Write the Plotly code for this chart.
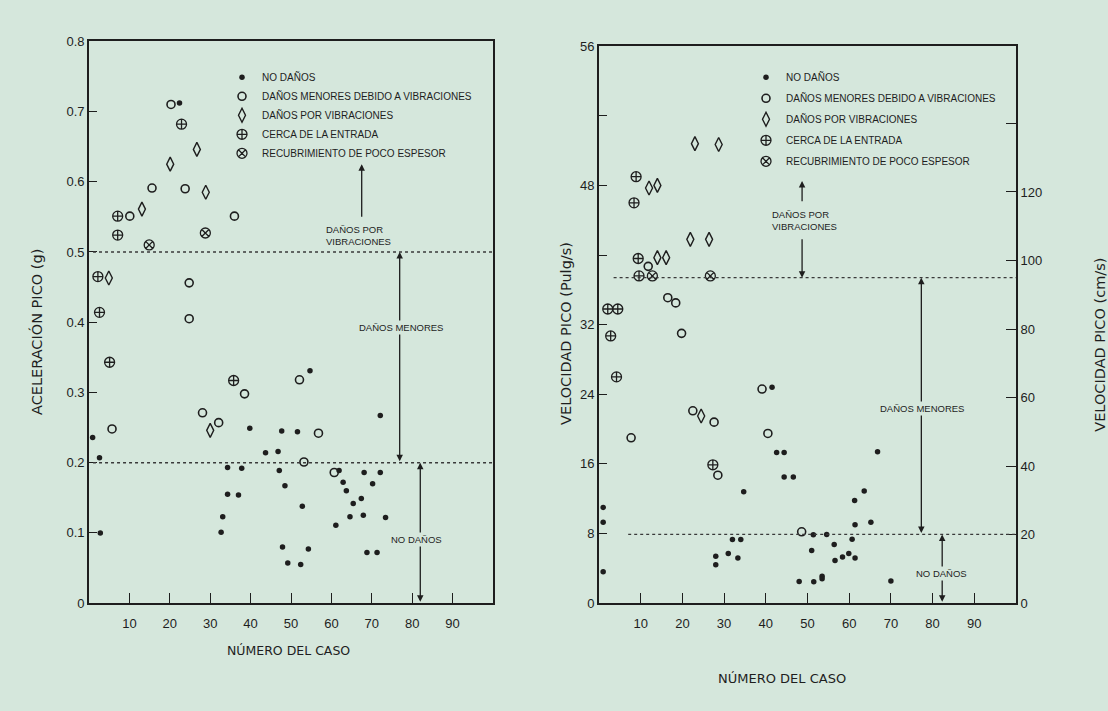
import plotly.graph_objects as go

W, H = 1108, 711
BG = "#d5e7dc"
INK = "#1e1e1e"
FONT = "Liberation Sans"
TFONT = "DejaVu Sans"

# ---------------- DATA ----------------
series_names = ["NO DAÑOS", "DAÑOS MENORES DEBIDO A VIBRACIONES", "DAÑOS POR VIBRACIONES",
                "CERCA DE LA ENTRADA", "RECUBRIMIENTO DE POCO ESPESOR"]

# Left panel: peak acceleration (g) vs case number
acc_none_x = [22.4, 0.9, 2.6, 2.8, 39.8, 47.7, 43.7, 46.8, 47.1, 34.3, 37.8, 34.3, 37.0, 33.1, 32.7,
              47.9, 48.5, 49.2, 52.4, 54.3, 52.8, 54.7, 51.6, 72.1, 61.9, 68.1, 72.1, 62.9, 63.7,
              70.2, 67.4, 65.4, 67.9, 64.6, 73.4, 61.1, 68.8, 71.3]
acc_none_y = [0.712, 0.236, 0.207, 0.100, 0.249, 0.245, 0.214, 0.216, 0.189, 0.193, 0.192, 0.155,
              0.154, 0.123, 0.101, 0.080, 0.167, 0.057, 0.055, 0.077, 0.138, 0.331, 0.244, 0.267,
              0.189, 0.186, 0.186, 0.172, 0.160, 0.170, 0.149, 0.142, 0.125, 0.123, 0.122, 0.111,
              0.072, 0.072]
acc_minor_x = [20.3, 15.6, 23.8, 10.1, 36.0, 24.8, 24.8, 38.5, 28.1, 32.1, 5.7, 52.1, 56.8, 53.2, 60.7]
acc_minor_y = [0.710, 0.591, 0.590, 0.551, 0.551, 0.456, 0.405, 0.298, 0.271, 0.257, 0.248, 0.318,
               0.242, 0.201, 0.186]
acc_vib_x = [26.7, 20.1, 28.9, 13.1, 4.9, 30.0]
acc_vib_y = [0.646, 0.625, 0.585, 0.561, 0.463, 0.246]
acc_portal_x = [22.9, 7.1, 7.1, 2.2, 2.6, 5.1, 35.8]
acc_portal_y = [0.682, 0.551, 0.524, 0.465, 0.414, 0.343, 0.317]
acc_thin_x = [28.8, 14.9]
acc_thin_y = [0.527, 0.510]

# Right panel: peak velocity (in/s) vs case number
vel_none_x = [1.0, 1.0, 1.0, 28.0, 28.0, 31.0, 32.0, 34.0, 33.3, 34.7, 42.6, 44.4, 44.4, 46.6, 41.5,
              48.0, 51.4, 51.0, 51.5, 53.5, 53.5, 54.6, 56.4, 56.6, 58.4, 59.9, 60.7, 61.4, 61.3,
              61.4, 63.6, 65.2, 66.8, 70.0]
vel_none_y = [11.0, 9.3, 3.6, 5.4, 4.4, 5.7, 7.3, 7.3, 5.2, 12.8, 17.3, 17.3, 14.5, 14.5, 24.8,
              2.5, 7.85, 6.05, 2.45, 3.1, 2.8, 7.9, 6.75, 4.9, 5.3, 5.7, 7.35, 5.2, 11.8, 9.0,
              12.9, 9.3, 17.4, 2.55]
vel_minor_x = [11.8, 16.5, 18.4, 19.8, 7.7, 22.5, 27.6, 39.1, 28.5, 48.6, 40.5]
vel_minor_y = [38.7, 35.1, 34.5, 31.0, 19.0, 22.1, 20.8, 24.6, 14.7, 8.2, 19.5]
vel_vib_x = [23.0, 28.7, 12.0, 14.0, 21.9, 26.4, 14.0, 16.1, 24.5]
vel_vib_y = [52.8, 52.7, 47.7, 48.0, 41.8, 41.8, 39.7, 39.7, 21.5]
vel_portal_x = [8.9, 8.4, 9.4, 9.6, 2.1, 4.5, 2.8, 4.2, 27.3]
vel_portal_y = [49.0, 46.0, 39.6, 37.6, 33.8, 33.8, 30.7, 26.0, 15.9]
vel_thin_x = [12.8, 26.7]
vel_thin_y = [37.6, 37.6]

# damage thresholds
acc_limits = [0.5, 0.2]          # g
vel_limits = [37.4, 7.9]         # in/s

# axis ticks
case_ticks = [10, 20, 30, 40, 50, 60, 70, 80, 90]
acc_ticks = [0, 0.1, 0.2, 0.3, 0.4, 0.5, 0.6, 0.7, 0.8]
acc_labels = ["0", "0.1", "0.2", "0.3", "0.4", "0.5", "0.6", "0.7", "0.8"]
vel_ticks = [0, 8, 16, 24, 32, 40, 48, 56, 64]
vel_labels = ["0", "8", "16", "24", "32", "", "48", "", "56"]
cms_ticks = [0, 20, 40, 60, 80, 100, 120, 140]
cms_labels = ["0", "20", "40", "60", "80", "100", "120", ""]

# ---------------- FIGURE ----------------
styles = [
    dict(symbol="circle", size=5.5, color=INK, line=dict(width=0)),
    dict(symbol="circle-open", size=8, color=INK, line=dict(width=1.6)),
    dict(symbol="diamond-tall-open", size=10, color=INK, line=dict(width=1.4)),
    dict(symbol="circle-cross-open", size=10, color=INK, line=dict(width=1.3)),
    dict(symbol="circle-x-open", size=10, color=INK, line=dict(width=1.3)),
]

fig = go.Figure()
left_sets = [(acc_none_x, acc_none_y), (acc_minor_x, acc_minor_y), (acc_vib_x, acc_vib_y),
             (acc_portal_x, acc_portal_y), (acc_thin_x, acc_thin_y)]
right_sets = [(vel_none_x, vel_none_y), (vel_minor_x, vel_minor_y), (vel_vib_x, vel_vib_y),
              (vel_portal_x, vel_portal_y), (vel_thin_x, vel_thin_y)]

for i, (xs, ys) in enumerate(left_sets):
    fig.add_trace(go.Scatter(x=xs, y=ys, mode="markers", name=series_names[i], marker=styles[i],
                             xaxis="x", yaxis="y", legend="legend", cliponaxis=False))
for i, (xs, ys) in enumerate(right_sets):
    fig.add_trace(go.Scatter(x=xs, y=ys, mode="markers", name=series_names[i], marker=styles[i],
                             xaxis="x2", yaxis="y2", legend="legend2", legendgroup="g%d" % i,
                             cliponaxis=False))

# secondary (cm/s) axis carrier
fig.add_trace(go.Scatter(x=[None], y=[None], xaxis="x2", yaxis="y3", showlegend=False,
                         hoverinfo="skip"))

def px_x(p):
    return p / W

def px_y(p):
    return 1 - p / H

axis_common = dict(showline=True, linecolor=INK, linewidth=1.7, ticks="inside", tickcolor=INK,
                   tickwidth=1.3, showgrid=False, zeroline=False,
                   tickfont=dict(family=FONT, size=13, color=INK))

fig.update_layout(
    width=W, height=H,
    margin=dict(l=0, r=0, t=0, b=0),
    paper_bgcolor=BG, plot_bgcolor=BG,
    font=dict(family=FONT, color=INK),
    xaxis=dict(domain=[px_x(89), px_x(493)], range=[0, 100], anchor="y",
               tickvals=case_ticks, ticklen=10, mirror=True, ticklabelstandoff=7, **axis_common),
    yaxis=dict(domain=[px_y(609), px_y(35)], range=[0, 0.8], anchor="x",
               tickvals=acc_ticks, ticktext=acc_labels, ticklen=8, mirror=True, **axis_common),
    xaxis2=dict(domain=[px_x(599), px_x(1016)], range=[0, 100], anchor="y2",
                tickvals=case_ticks, ticklen=10, mirror=True, ticklabelstandoff=7, **axis_common),
    yaxis2=dict(domain=[px_y(609), px_y(40)], range=[0, 64], anchor="x2",
                tickvals=vel_ticks, ticktext=vel_labels, ticklen=8, **axis_common),
    yaxis3=dict(range=[0, 64 * 2.54], overlaying="y2", side="right", anchor="x2",
                tickvals=cms_ticks, ticktext=cms_labels, ticklen=10, **axis_common),
    legend=dict(x=px_x(222), y=px_y(57), xanchor="left", yanchor="top",
                bgcolor="rgba(0,0,0,0)", font=dict(family=FONT, size=10, color=INK),
                itemwidth=30, tracegroupgap=0),
    legend2=dict(x=px_x(746), y=px_y(57), xanchor="left", yanchor="top",
                 bgcolor="rgba(0,0,0,0)", font=dict(family=FONT, size=10, color=INK),
                 itemwidth=30, tracegroupgap=2),
    showlegend=True,
)

# threshold dotted lines
for v in acc_limits:
    fig.add_shape(type="line", xref="x", yref="y", x0=1, x1=100, y0=v, y1=v,
                  line=dict(color="#3a3a3a", width=1.4, dash="dot"))
vel_starts = [3.5, 7.0]
for v, s in zip(vel_limits, vel_starts):
    fig.add_shape(type="line", xref="x2", yref="y2", x0=s, x1=100, y0=v, y1=v,
                  line=dict(color="#3a3a3a", width=1.4, dash="dot"))

def arrow(xr, yr, x, y0, y1, both=False):
    fig.add_annotation(xref=xr, yref=yr, axref=xr, ayref=yr, x=x, y=y1, ax=x, ay=y0, text="",
                       showarrow=True, arrowhead=2, arrowsize=1, arrowwidth=1.3, arrowcolor=INK,
                       arrowside="end+start" if both else "end", standoff=0, startstandoff=0)

def label(xr, yr, x, y, txt, mask=False, align="center"):
    fig.add_annotation(xref=xr, yref=yr, x=x, y=y, text=txt, showarrow=False, align=align,
                       xanchor="center", yanchor="middle",
                       font=dict(family=FONT, size=9.5, color=INK),
                       bgcolor=BG if mask else "rgba(0,0,0,0)", borderpad=1)

# left panel arrows & zone labels
arrow("x", "y", 67.5, 0.548, 0.625)
label("x", "y", 66.7, 0.523, "DAÑOS POR<br>VIBRACIONES", align="left")
arrow("x", "y", 76.9, acc_limits[1], acc_limits[0], both=True)
label("x", "y", 77.2, 0.393, "DAÑOS MENORES", mask=True)
arrow("x", "y", 82.0, 0.0, acc_limits[1], both=True)
label("x", "y", 81.0, 0.091, "NO DAÑOS", mask=True)

# right panel arrows & zone labels
arrow("x2", "y2", 48.7, 46.0, 48.5)
label("x2", "y2", 49.2, 44.0, "DAÑOS POR<br>VIBRACIONES", align="left")
arrow("x2", "y2", 48.7, 42.0, vel_limits[0])
arrow("x2", "y2", 77.3, vel_limits[1], vel_limits[0], both=True)
label("x2", "y2", 77.4, 22.4, "DAÑOS MENORES", mask=True)
arrow("x2", "y2", 82.3, 0.0, vel_limits[1], both=True)
label("x2", "y2", 82.1, 3.4, "NO DAÑOS", mask=True)

# axis titles
def title(x, y, txt, angle=0, size=12.5):
    fig.add_annotation(xref="paper", yref="paper", x=x, y=y, text=txt, showarrow=False,
                       xanchor="center", yanchor="middle",
                       textangle=angle, font=dict(family=TFONT, size=size, color=INK))

title(px_x(37), px_y(332), "ACELERACIÓN PICO (g)", -90, 14.5)
title(px_x(288), px_y(657), "NÚMERO DEL CASO")
title(px_x(566), px_y(334), "VELOCIDAD PICO (Pulg/s)", -90, 14.5)
title(px_x(1100), px_y(345), "VELOCIDAD PICO (cm/s)", -90, 14.5)
title(px_x(782), px_y(686), "NÚMERO DEL CASO", 0, 13)

fig.write_html("out.html", config={"displayModeBar": False},
               post_script="document.body.style.margin='0';document.body.style.overflow='hidden';")
